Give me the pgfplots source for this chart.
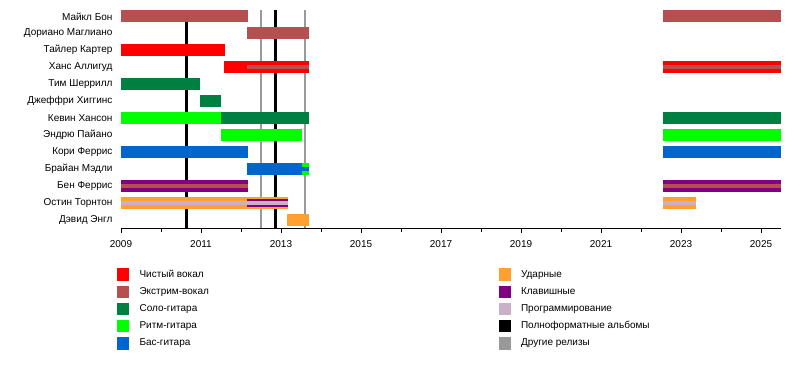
\documentclass[border=0pt]{standalone}
\usepackage{fontspec}
\setmainfont{Liberation Sans}
\usepackage{pgfplots}
\pgfplotsset{compat=1.18}
\definecolor{cvoc}{HTML}{FF0000}
\definecolor{evoc}{HTML}{B65050}
\definecolor{lead}{HTML}{008040}
\definecolor{rhythm}{HTML}{00FF00}
\definecolor{bass}{HTML}{0066CC}
\definecolor{drums}{HTML}{FFA030}
\definecolor{keys}{HTML}{800080}
\definecolor{prog}{HTML}{C8B0C8}
\definecolor{album}{HTML}{000000}
\definecolor{other}{HTML}{999999}
\begin{document}
\begin{tikzpicture}
\begin{axis}[
  name=main,
  scale only axis, width=660bp, height=220bp,
  xmin=2009, xmax=2025.5, ymin=0.5, ymax=13.5, y dir=reverse,
  axis x line*=bottom, axis y line*=left,
  x axis line style={-, line width=0.6bp},
  y axis line style={draw=none},
  xtick={2009,2011,...,2025}, minor xtick={2010,2012,...,2024},
  tick align=outside, major tick length=5bp, minor tick length=4bp,
  xtick style={line width=0.6bp, black},
  xticklabel style={/pgf/number format/1000 sep={}, yshift=-3.5bp},
  ytick={1,...,13},
  yticklabels={Майкл Бон,Дориано Маглиано,Тайлер Картер,Ханс Аллигуд,Тим Шеррилл,Джеффри Хиггинс,Кевин Хансон,Эндрю Пайано,Кори Феррис,Брайан Мэдли,Бен Феррис,Остин Торнтон,Дэвид Энгл},
  ytick style={draw=none},
  tick label style={font=\fontsize{10bp}{12bp}\selectfont},
  /pgf/number format/assume math mode=true,
  wide/.style={line width=12bp, forget plot},
  mid/.style={line width=8bp, forget plot},
  thin/.style={line width=4bp, forget plot},
  vline/.style={line width=2.7bp, forget plot},
  legend image code/.code={\path[#1, draw=none] (0bp,-6.2bp) rectangle (12bp,6.2bp);},
  legend columns=5, transpose legend,
  legend cell align=left,
  legend style={draw=none, fill=none, inner sep=0pt, outer sep=0pt,
    at={(-0.006,-0.184)}, anchor=north west,
    font=\fontsize{10bp}{12bp}\selectfont,
    nodes={inner sep=1bp, text height=7.5bp, text depth=2.5bp}, row sep=4.8bp,
    /tikz/every odd column/.append style={column sep=9.5bp}},
]
% release lines (behind bars)
\addplot[vline, album] coordinates {(2010.63,0.59) (2010.63,13.5)};
\addplot[vline, album] coordinates {(2012.86,0.59) (2012.86,13.5)};
\addplot[vline, other] coordinates {(2012.5,0.59) (2012.5,13.5)};
\addplot[vline, other] coordinates {(2013.6,0.59) (2013.6,13.5)};
% 1 Майкл Бон
\addplot[wide, evoc] coordinates {(2009,1) (2012.17,1)};
\addplot[wide, evoc] coordinates {(2022.55,1) (2025.5,1)};
% 2 Дориано Маглиано
\addplot[wide, evoc] coordinates {(2012.15,2) (2013.7,2)};
% 3 Тайлер Картер
\addplot[wide, cvoc] coordinates {(2009,3) (2011.6,3)};
% 4 Ханс Аллигуд
\addplot[wide, cvoc] coordinates {(2011.58,4) (2013.7,4)};
\addplot[thin, evoc] coordinates {(2012.15,4) (2013.7,4)};
\addplot[wide, cvoc] coordinates {(2022.55,4) (2025.5,4)};
\addplot[thin, evoc] coordinates {(2022.55,4) (2025.5,4)};
% 5 Тим Шеррилл
\addplot[wide, lead] coordinates {(2009,5) (2010.98,5)};
% 6 Джеффри Хиггинс
\addplot[wide, lead] coordinates {(2010.98,6) (2011.5,6)};
% 7 Кевин Хансон
\addplot[wide, rhythm] coordinates {(2009,7) (2011.5,7)};
\addplot[wide, lead] coordinates {(2011.5,7) (2013.7,7)};
\addplot[wide, lead] coordinates {(2022.55,7) (2025.5,7)};
% 8 Эндрю Пайано
\addplot[wide, rhythm] coordinates {(2011.5,8) (2013.53,8)};
\addplot[wide, rhythm] coordinates {(2022.55,8) (2025.5,8)};
% 9 Кори Феррис
\addplot[wide, bass] coordinates {(2009,9) (2012.17,9)};
\addplot[wide, bass] coordinates {(2022.55,9) (2025.5,9)};
% 10 Брайан Мэдли
\addplot[wide, bass] coordinates {(2012.15,10) (2013.53,10)};
\addplot[wide, rhythm] coordinates {(2013.53,10) (2013.7,10)};
\addplot[thin, bass] coordinates {(2013.53,10) (2013.7,10)};
% 11 Бен Феррис
\addplot[wide, keys] coordinates {(2009,11) (2012.17,11)};
\addplot[thin, evoc] coordinates {(2009,11) (2012.17,11)};
\addplot[wide, keys] coordinates {(2022.55,11) (2025.5,11)};
\addplot[thin, evoc] coordinates {(2022.55,11) (2025.5,11)};
% 12 Остин Торнтон
\addplot[wide, drums] coordinates {(2009,12) (2013.17,12)};
\addplot[mid, keys] coordinates {(2012.15,12) (2013.17,12)};
\addplot[thin, prog] coordinates {(2009,12) (2013.17,12)};
\addplot[wide, drums] coordinates {(2022.55,12) (2023.38,12)};
\addplot[thin, prog] coordinates {(2022.55,12) (2023.38,12)};
% 13 Дэвид Энгл
\addplot[wide, drums] coordinates {(2013.15,13) (2013.7,13)};
% legend
\addlegendimage{fill=cvoc}\addlegendentry{\makebox[358bp][l]{Чистый вокал}}
\addlegendimage{fill=evoc}\addlegendentry{\makebox[358bp][l]{Экстрим-вокал}}
\addlegendimage{fill=lead}\addlegendentry{\makebox[358bp][l]{Соло-гитара}}
\addlegendimage{fill=rhythm}\addlegendentry{\makebox[358bp][l]{Ритм-гитара}}
\addlegendimage{fill=bass}\addlegendentry{\makebox[358bp][l]{Бас-гитара}}
\addlegendimage{fill=drums}\addlegendentry{Ударные}
\addlegendimage{fill=keys}\addlegendentry{Клавишные}
\addlegendimage{fill=prog}\addlegendentry{Программирование}
\addlegendimage{fill=album}\addlegendentry{Полноформатные альбомы}
\addlegendimage{fill=other}\addlegendentry{Другие релизы}
\end{axis}
\pgfresetboundingbox
\path (main.south west) ++(-121bp,-148bp) rectangle ++(800bp,376bp);
\end{tikzpicture}
\end{document}
